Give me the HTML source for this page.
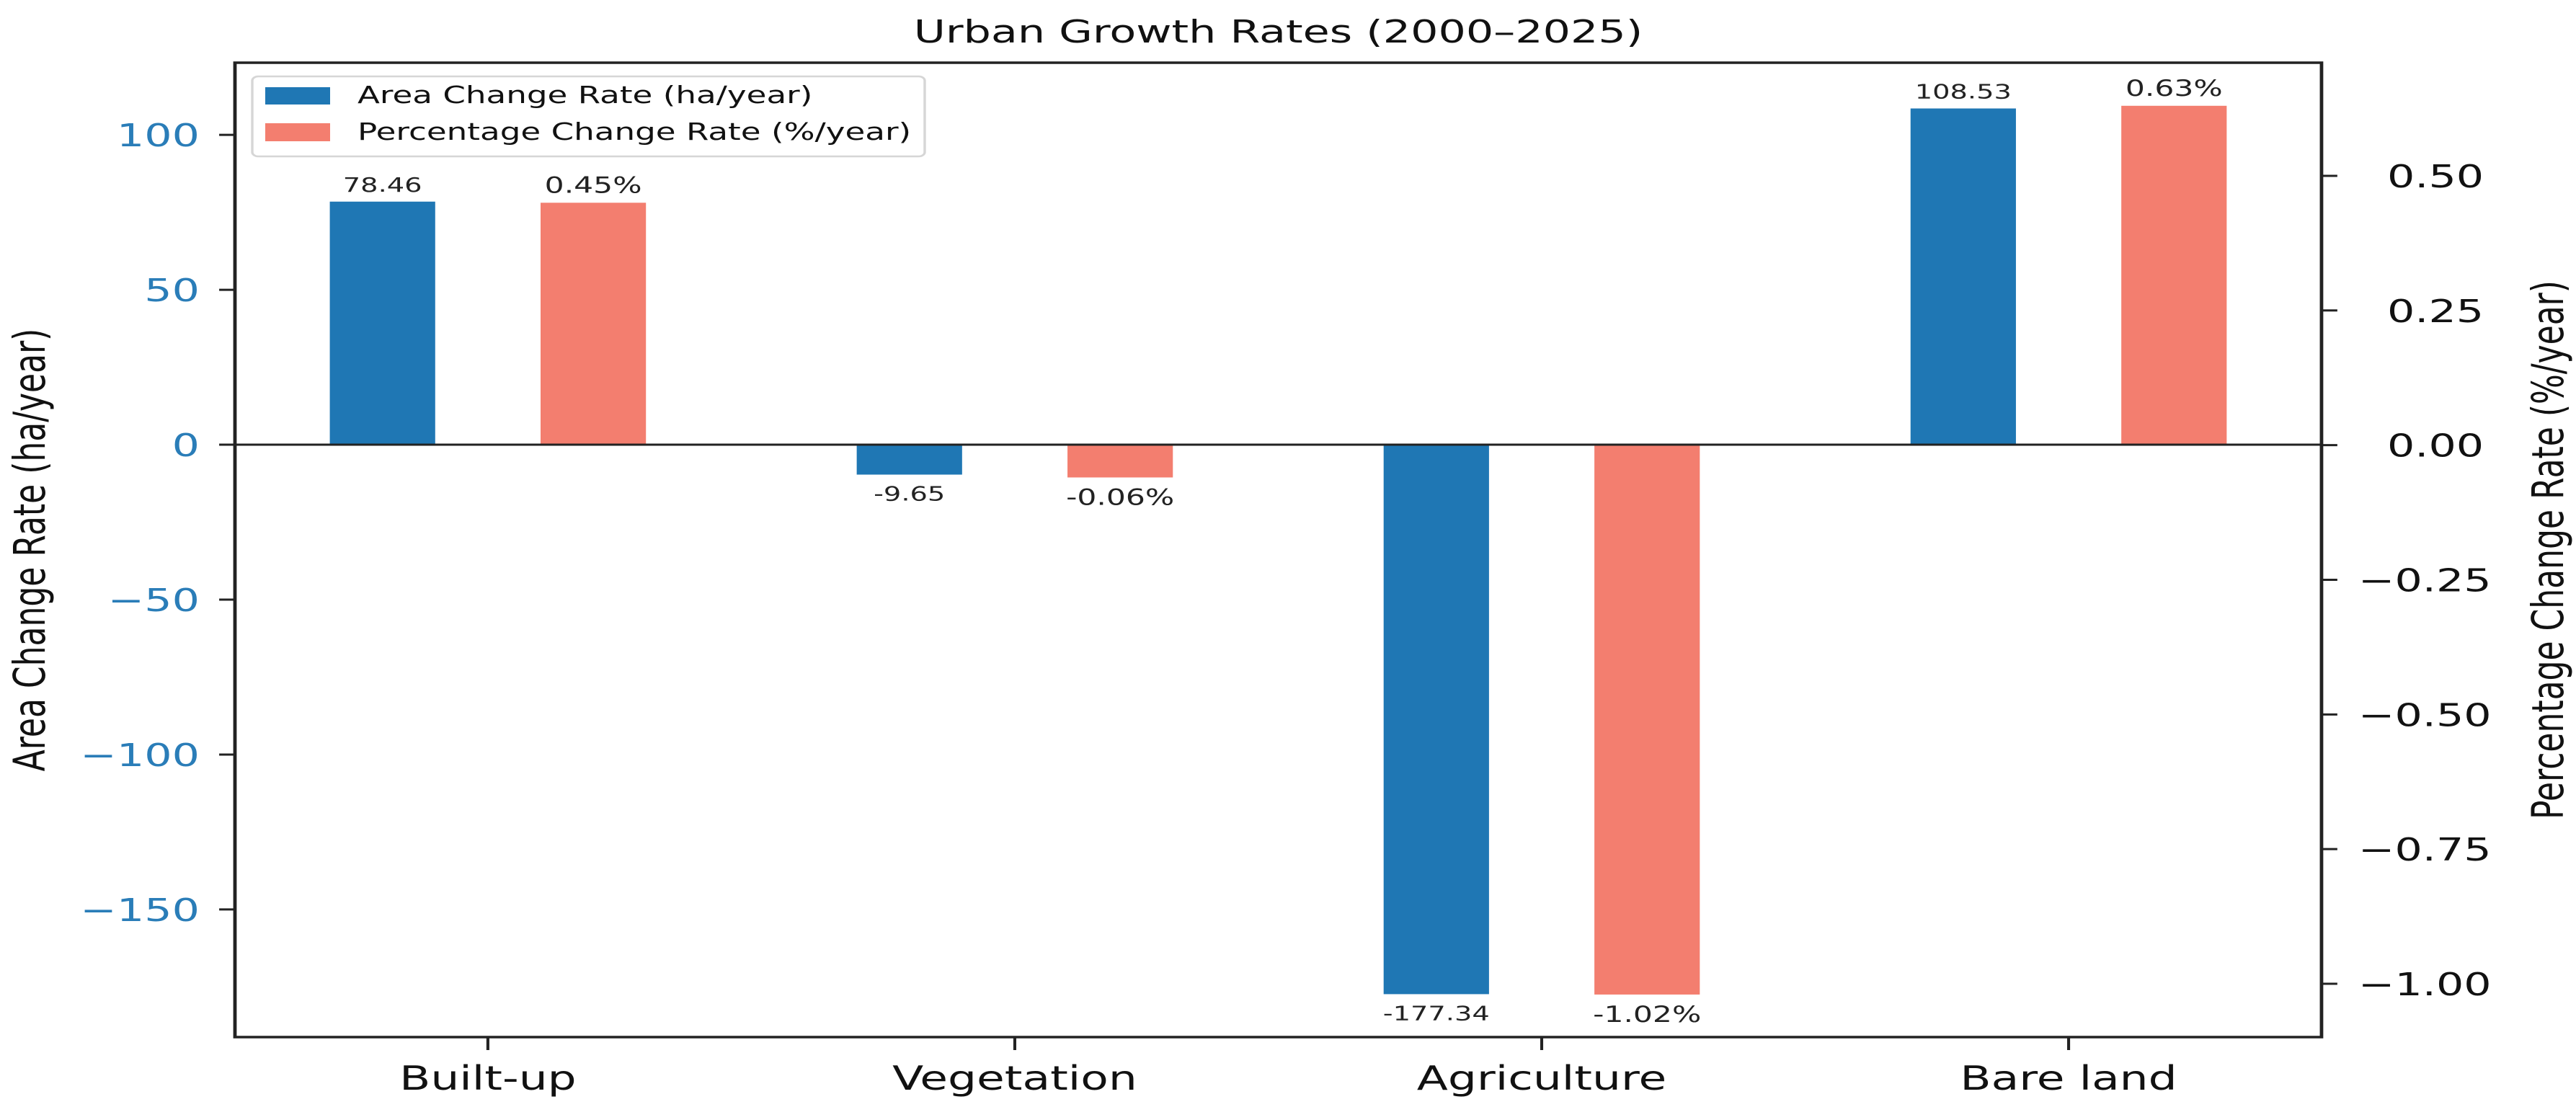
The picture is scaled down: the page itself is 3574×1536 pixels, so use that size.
<!DOCTYPE html>
<html><head><meta charset="utf-8"><style>
html,body{margin:0;padding:0;background:#fff;}
svg{display:block;}
text{font-family:"DejaVu Sans","Liberation Sans",sans-serif;}
</style></head><body>
<svg id="chart" width="3574" height="1536" viewBox="0 0 2608.8 1536" preserveAspectRatio="none" xmlns="http://www.w3.org/2000/svg"></svg>
<script>
const categories = ["Built-up", "Vegetation", "Agriculture", "Bare land"];
const areaValues = [78.46, -9.65, -177.34, 108.53];
const pctValues = [0.45, -0.06, -1.02, 0.63];
const leftTicks = [100, 50, 0, -50, -100, -150];
const rightTicks = [0.5, 0.25, 0, -0.25, -0.5, -0.75, -1.0];

const NS = "http://www.w3.org/2000/svg";
const svg = document.getElementById("chart");
const SX = 1.37;
const xL = 326 / SX, xR = 3221 / SX, yT = 87, yB = 1439;
const leftMin = -191.2, leftMax = 123.3;
const rightMin = -1.099, rightMax = 0.71;
const catMin = -0.48, catMax = 3.48;
function xScale(v){ return xL + (v - catMin) / (catMax - catMin) * (xR - xL); }
function yLeft(v){ return yT + (leftMax - v) / (leftMax - leftMin) * (yB - yT); }
function yRight(v){ return yT + (rightMax - v) / (rightMax - rightMin) * (yB - yT); }
function mk(tag, attrs, parent){
  const e = document.createElementNS(NS, tag);
  for (const k in attrs) e.setAttribute(k, attrs[k]);
  (parent || svg).appendChild(e);
  return e;
}
const BLUE = "#1f77b4", RED = "#f37e6f";
const bw = 0.2;

// title
let t = mk("text", {x: (xL + xR) / 2, y: 59, "text-anchor": "middle", "font-size": 44, fill: "#111"});
t.textContent = "Urban Growth Rates (2000–2025)";



// bars
categories.forEach((c, i) => {
  const cx = xScale(i);
  const xa = xScale(i - bw / 2 - bw / 2);
  const w = xScale(i + bw) - xScale(i);
  const y0 = yLeft(0), y1 = yLeft(areaValues[i]);
  const r1 = mk("rect", {x: xScale(i - bw) - w / 2, y: Math.min(y0, y1), width: w, height: Math.abs(y1 - y0), fill: BLUE});
  
  
  const p0 = yRight(0), p1 = yRight(pctValues[i]);
  const r2 = mk("rect", {x: xScale(i + bw) - w / 2, y: Math.min(p0, p1), width: w, height: Math.abs(p1 - p0), fill: RED});
  
  
  const la = mk("text", {x: xScale(i - bw), y: areaValues[i] >= 0 ? y1 - 14 : y1 + 36, "text-anchor": "middle", "font-size": 28, fill: "#222"});
  la.textContent = areaValues[i].toFixed(2);
  
  
  const lp = mk("text", {x: xScale(i + bw), y: pctValues[i] >= 0 ? p1 - 14 : p1 + 38, "text-anchor": "middle", "font-size": 31, fill: "#222"});
  lp.textContent = pctValues[i].toFixed(2) + "%";
  
  
  // x tick
  const tk = mk("line", {x1: cx, x2: cx, y1: yB, y2: yB + 18, stroke: "#222", "stroke-width": 3});
  
  
  const tl = mk("text", {x: cx, y: 1512, "text-anchor": "middle", "font-size": 46, fill: "#111"});
  tl.textContent = c;
  
  
});

// zero line
const zl = mk("line", {x1: xL, x2: xR, y1: yLeft(0), y2: yLeft(0), stroke: "#222", "stroke-width": 3});



// frame
const fr = mk("rect", {x: xL, y: yT, width: xR - xL, height: yB - yT, fill: "none", stroke: "#222", "stroke-width": 3.5});



// left ticks
leftTicks.forEach(v => {
  const y = yLeft(v);
  const l = mk("line", {x1: xL - 16, x2: xL, y1: y, y2: y, stroke: "#222", "stroke-width": 3});
  
  
  const tx = mk("text", {x: 277 / SX, y: y + 16, "text-anchor": "end", "font-size": 44, fill: "#2a7db8"});
  tx.textContent = (v < 0 ? "−" : "") + Math.abs(v);
  
  
});
// right ticks
rightTicks.forEach(v => {
  const y = yRight(v);
  const l = mk("line", {x1: xR, x2: xR + 16, y1: y, y2: y, stroke: "#222", "stroke-width": 3});
  
  
  const tx = mk("text", {x: v < 0 ? 3272 / SX : 3312 / SX, y: y + 16, "text-anchor": "start", "font-size": 44, fill: "#111"});
  tx.textContent = (v < 0 ? "−" : "") + Math.abs(v).toFixed(2);
  
  
});

// axis titles
const yl = mk("text", {x: 0, y: 0, "text-anchor": "middle", "font-size": 44, fill: "#111", transform: "translate(" + (62 / SX) + ",763) rotate(-90)"});
yl.textContent = "Area Change Rate (ha/year)";


const yr = mk("text", {x: 0, y: 0, "text-anchor": "middle", "font-size": 44, fill: "#111", transform: "translate(" + (3556 / SX) + ",763) rotate(-90)"});
yr.textContent = "Percentage Change Rate (%/year)";



// legend
const lg = mk("g", {});


mk("rect", {x: 350 / SX, y: 106, width: 933 / SX, height: 111, rx: 6, fill: "#fff", "fill-opacity": 0.85, stroke: "#d6d6d6", "stroke-width": 2.5}, lg);
const le1 = mk("rect", {x: 368 / SX, y: 121, width: 90 / SX, height: 24, fill: BLUE}, lg);


const lt1 = mk("text", {x: 496 / SX, y: 143, "font-size": 33, fill: "#111"}, lg);
lt1.textContent = "Area Change Rate (ha/year)";


const le2 = mk("rect", {x: 368 / SX, y: 171, width: 90 / SX, height: 25, fill: RED}, lg);


const lt2 = mk("text", {x: 496 / SX, y: 194, "font-size": 33, fill: "#111"}, lg);
lt2.textContent = "Percentage Change Rate (%/year)";


</script>
</body></html>
